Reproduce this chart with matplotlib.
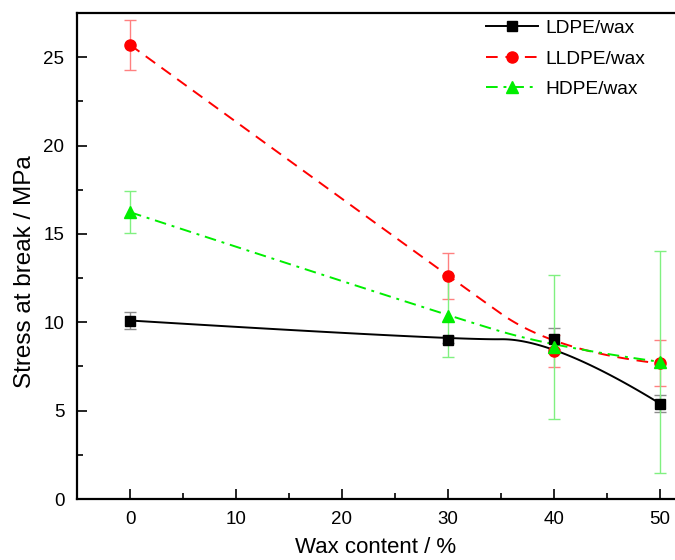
import numpy as np
import matplotlib
matplotlib.use('Agg')
from matplotlib import pyplot as plt

# stress at break vs wax content
wax = [0, 30, 40, 50]
ldpe = [10.1, 9.0, 9.08, 5.4]
ldpe_err = [0.5, 0.2, 0.6, 0.5]
lldpe = [25.7, 12.62, 8.36, 7.67]
lldpe_err = [1.4, 1.3, 0.9, 1.3]
hdpe = [16.23, 10.36, 8.6, 7.76]
hdpe_err = [1.2, 2.3, 4.1, 6.3]

plt.rcParams['font.family'] = ['Liberation Sans', 'DejaVu Sans']


def bspline(xs, ys, num=60):
    """clamped quadratic B-spline using the data points as control points"""
    pts = np.column_stack([xs, ys]).astype(float)
    n = len(pts)
    knots = [pts[0]]
    for i in range(1, n - 2):
        knots.append((pts[i] + pts[i + 1]) / 2)
    knots.append(pts[-1])
    s = np.linspace(0, 1, num)[:, None]
    segs = []
    for k in range(n - 2):
        a, c, b = knots[k], pts[k + 1], knots[k + 1]
        segs.append((1 - s) ** 2 * a + 2 * s * (1 - s) * c + s ** 2 * b)
    curve = np.vstack(segs)
    return curve[:, 0], curve[:, 1]


def series(ax, x, y, err, color, ecolor, ls, marker, ms, label):
    cx, cy = bspline(x, y)
    ax.plot(cx, cy, color=color, ls=ls, lw=1.4, zorder=2)
    ax.errorbar(x, y, yerr=err, fmt='none', ecolor=ecolor, elinewidth=1.0,
                capsize=4, capthick=1.0, zorder=3)
    ax.plot(x, y, ls='none', marker=marker, ms=ms, color=color, zorder=4)
    # proxy artist for the legend
    ax.plot([], [], color=color, ls=ls, lw=1.4, marker=marker, ms=ms,
            label=label)


fig = plt.figure(figsize=(6.75, 5.6), dpi=100)
ax = fig.add_axes((77 / 675, 61 / 560, 636 / 675, 486 / 560))

series(ax, wax, ldpe, ldpe_err, 'black', '#8c8c8c', '-', 's', 6.5,
       'LDPE/wax')
series(ax, wax, lldpe, lldpe_err, 'red', '#ff8080', (0, (6, 4)), 'o', 8,
       'LLDPE/wax')
series(ax, wax, hdpe, hdpe_err, '#00ee00', '#80f080',
       (0, (6, 3, 1.5, 3)), '^', 8.5, 'HDPE/wax')

ax.set_xlim(-5, 55)
ax.set_ylim(0, 27.5)
ax.set_xticks([0, 10, 20, 30, 40, 50])
ax.set_xticks([5, 15, 25, 35, 45], minor=True)
ax.set_yticks([0, 5, 10, 15, 20, 25])
ax.set_yticks([2.5, 7.5, 12.5, 17.5, 22.5], minor=True)
ax.tick_params(which='both', direction='in', width=1.2, labelsize=13.5,
               pad=9)
ax.tick_params(which='major', length=7)
ax.tick_params(which='minor', length=4)
for sp in ax.spines.values():
    sp.set_linewidth(1.6)
ax.spines['right'].set_visible(False)

ax.set_xlabel('Wax content / %', fontsize=16)
ax.set_ylabel('Stress at break / MPa', fontsize=17.5)
# labels centred on the visible part of the frame
ax.xaxis.set_label_coords(0.469, -0.078)
ax.yaxis.set_label_coords(-0.065, 0.467)

ax.legend(loc='upper left', bbox_to_anchor=(0.625, 1.01), frameon=False,
          fontsize=13.8, handlelength=2.7, handletextpad=0.4,
          labelspacing=0.68, borderaxespad=0.2)

fig.savefig('out.png', dpi=100)
